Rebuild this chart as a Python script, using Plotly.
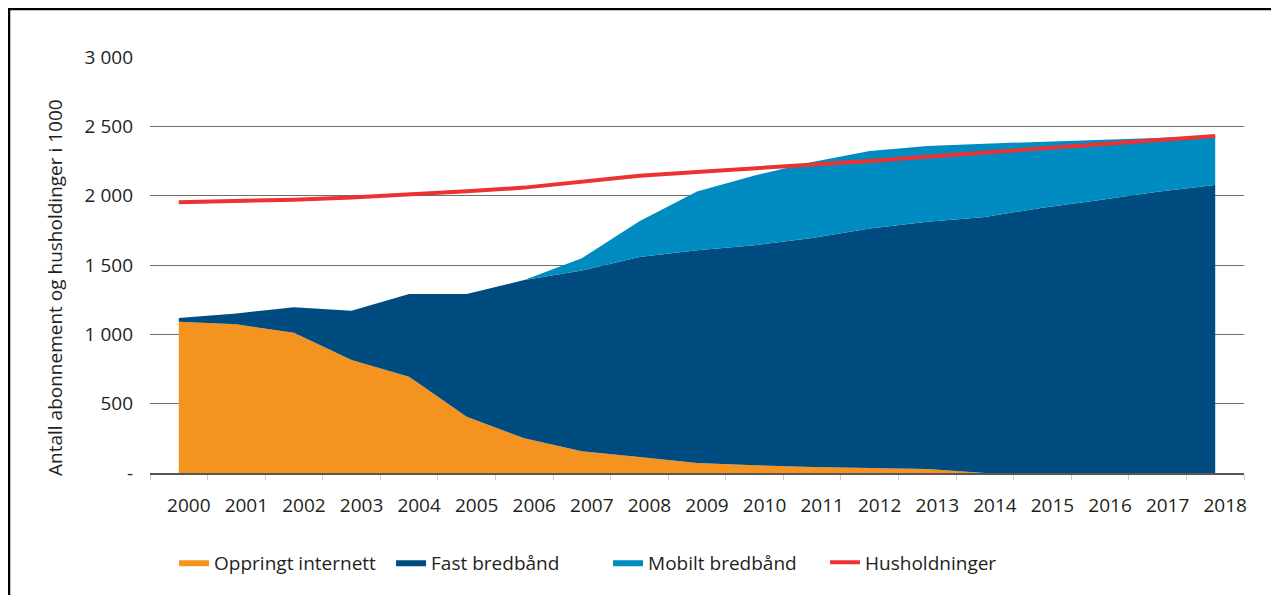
import plotly.graph_objects as go

years = [str(y) for y in range(2000, 2019)]
oppringt = [1091, 1072, 1012, 815, 695, 406, 250, 157, 116, 72, 56, 43, 36, 29, 0, 0, 0, 0, 0]
fast = [26, 79, 183, 355, 596, 885, 1141, 1304, 1442, 1534, 1586, 1652, 1727, 1782, 1847, 1913, 1968, 2029, 2077]
mobilt = [0, 0, 0, 0, 0, 0, 0, 88, 257, 424, 503, 547, 559, 547, 528, 477, 436, 389, 353]
husholdninger = [1952, 1959, 1971, 1986, 2007, 2032, 2058, 2101, 2144, 2171, 2197, 2221, 2250, 2281, 2310, 2337, 2368, 2397, 2430]
y_ticks = [0, 500, 1000, 1500, 2000, 2500, 3000]
y_ticktext = ["-", "500", "1 000", "1 500", "2 000", "2 500", "3 000"]

xs = list(range(len(years)))
FONT = "Open Sans"
TXT = "#231f20"
FS = 19

fig = go.Figure()
fig.add_trace(go.Scatter(x=xs, y=oppringt, name="Oppringt internett", stackgroup="a",
                         mode="lines", line=dict(width=0, color="#F4931F"), fillcolor="#F4931F"))
fig.add_trace(go.Scatter(x=xs, y=fast, name="Fast bredbånd", stackgroup="a",
                         mode="lines", line=dict(width=0, color="#004C80"), fillcolor="#004C80"))
fig.add_trace(go.Scatter(x=xs, y=mobilt, name="Mobilt bredbånd", stackgroup="a",
                         mode="lines", line=dict(width=0, color="#008BC1"), fillcolor="#008BC1"))
fig.add_trace(go.Scatter(x=xs, y=husholdninger, name="Husholdninger",
                         mode="lines", line=dict(width=4, color="#EC3232")))

fig.update_layout(
    width=1263, height=587,
    margin=dict(l=142, r=27, t=49, b=122),
    paper_bgcolor="white", plot_bgcolor="white",
    font=dict(family=FONT, size=FS, color=TXT),
    showlegend=True,
    legend=dict(orientation="h", traceorder="normal", x=0.022, y=-0.169, xanchor="left", yanchor="top",
                entrywidth=172, font=dict(size=FS, color=TXT), bgcolor="rgba(0,0,0,0)"),
    xaxis=dict(range=[-0.5, 18.5], tickmode="array", tickvals=xs, ticktext=years,
               showgrid=False, zeroline=False, showline=True, linecolor="#555", linewidth=1.5,
               ticks="", ticklabelshift=10, ticklabelstandoff=14,
               minor=dict(tick0=0.5, dtick=1, ticks="outside", ticklen=5, tickcolor="#cccccc", showgrid=False)),
    yaxis=dict(range=[0, 3000], tickmode="array", tickvals=y_ticks, ticktext=y_ticktext,
               showgrid=True, gridcolor="#6e6e6e", gridwidth=1.2, zeroline=False,
               showline=False, ticks="", ticklabelstandoff=16),
    annotations=[dict(text="Antall abonnement og husholdinger i 1000", textangle=-90,
                      xref="paper", yref="paper", x=-0.0868, y=0.445,
                      xanchor="center", yanchor="middle", showarrow=False,
                      font=dict(size=FS, color=TXT))],
    shapes=[dict(type="rect", xref="paper", yref="paper",
                 x0=-0.1291, x1=1.06, y0=-0.4, y1=1.116,
                 line=dict(color="black", width=3), fillcolor="rgba(0,0,0,0)", layer="above")],
)

fig.write_html("out.html")
